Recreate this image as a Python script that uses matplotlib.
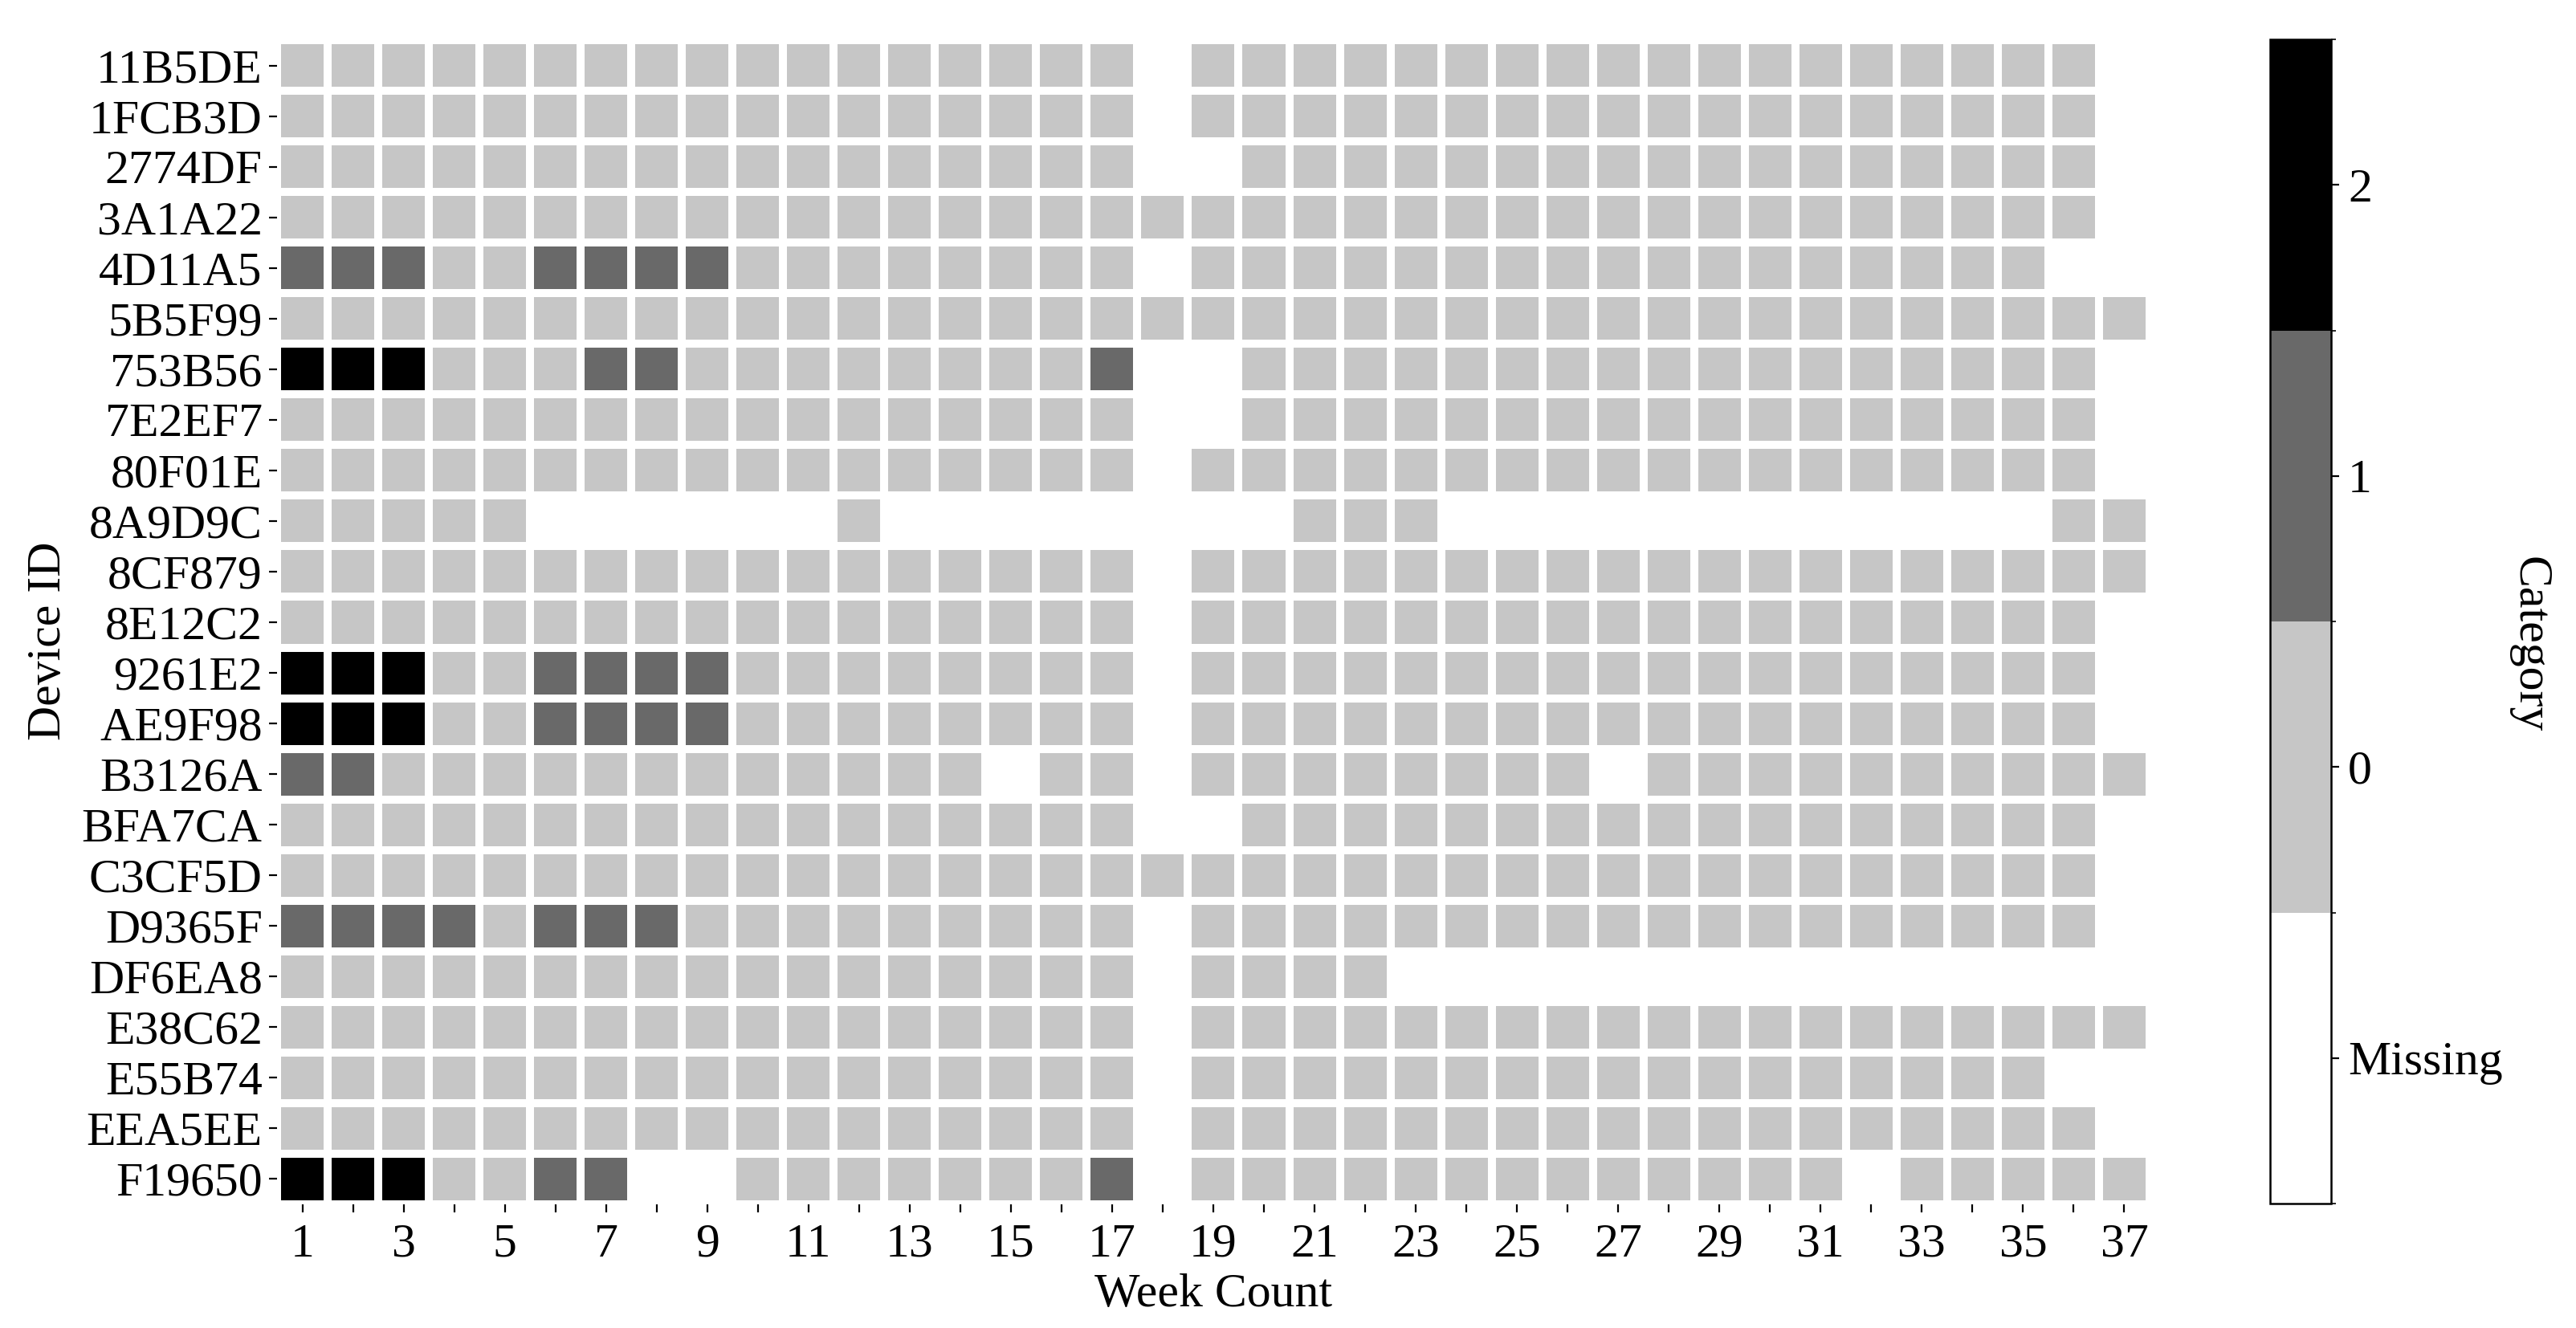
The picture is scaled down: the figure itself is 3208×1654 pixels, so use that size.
import matplotlib
matplotlib.use('Agg')
import matplotlib.pyplot as plt
from matplotlib.colors import ListedColormap, BoundaryNorm
import numpy as np

plt.rcParams['font.family'] = ['Liberation Serif', 'DejaVu Serif']

devices = ['11B5DE', '1FCB3D', '2774DF', '3A1A22', '4D11A5', '5B5F99', '753B56',
           '7E2EF7', '80F01E', '8A9D9C', '8CF879', '8E12C2', '9261E2', 'AE9F98',
           'B3126A', 'BFA7CA', 'C3CF5D', 'D9365F', 'DF6EA8', 'E38C62', 'E55B74',
           'EEA5EE', 'F19650']
weeks = list(range(1, 38))

# one string per device, weeks 1-37 in blocks of ten; '.' = missing week
status = [
    '0000000000 0000000.00 0000000000 000000.',   # 11B5DE
    '0000000000 0000000.00 0000000000 000000.',   # 1FCB3D
    '0000000000 0000000..0 0000000000 000000.',   # 2774DF
    '0000000000 0000000000 0000000000 000000.',   # 3A1A22
    '1110011110 0000000.00 0000000000 00000..',   # 4D11A5
    '0000000000 0000000000 0000000000 0000000',   # 5B5F99
    '2220001100 0000001..0 0000000000 000000.',   # 753B56
    '0000000000 0000000..0 0000000000 000000.',   # 7E2EF7
    '0000000000 0000000.00 0000000000 000000.',   # 80F01E
    '00000..... .0........ 000....... .....00',   # 8A9D9C
    '0000000000 0000000.00 0000000000 0000000',   # 8CF879
    '0000000000 0000000.00 0000000000 000000.',   # 8E12C2
    '2220011110 0000000.00 0000000000 000000.',   # 9261E2
    '2220011110 0000000.00 0000000000 000000.',   # AE9F98
    '1100000000 0000.00.00 000000.000 0000000',   # B3126A
    '0000000000 0000000..0 0000000000 000000.',   # BFA7CA
    '0000000000 0000000000 0000000000 000000.',   # C3CF5D
    '1111011100 0000000.00 0000000000 000000.',   # D9365F
    '0000000000 0000000.00 00........ .......',   # DF6EA8
    '0000000000 0000000.00 0000000000 0000000',   # E38C62
    '0000000000 0000000.00 0000000000 00000..',   # E55B74
    '0000000000 0000000.00 0000000000 000000.',   # EEA5EE
    '2220011..0 0000001.00 0000000000 0.00000',   # F19650
]

category_labels = ['Missing', '0', '1', '2']
category_colors = ['white', '#c6c6c6', '#696969', 'black']

grid = np.array([[-1 if c == '.' else int(c) for c in row.replace(' ', '')]
                 for row in status])

cmap = ListedColormap(category_colors)
norm = BoundaryNorm([-1.5, -0.5, 0.5, 1.5, 2.5], cmap.N)

fig = plt.figure(figsize=(16.04, 8.27), dpi=200)
ax = fig.add_axes([0.10754, 0.09311, 0.72693, 0.87666])
mesh = ax.pcolormesh(np.arange(len(weeks) + 1), np.arange(len(devices) + 1), grid,
                     cmap=cmap, norm=norm, edgecolors='white', linewidth=3.6)
ax.set_xlim(0, len(weeks))
ax.set_ylim(len(devices), 0)
for s in ax.spines.values():
    s.set_visible(False)

ax.set_xticks(np.arange(len(weeks)) + 0.5)
ax.set_xticklabels([str(w) if w % 2 == 1 else '' for w in weeks], fontsize=21.5)
ax.set_yticks(np.arange(len(devices)) + 0.5)
ax.set_yticklabels(devices, fontsize=21.5)
ax.tick_params(axis='both', length=3.6, width=0.8, pad=3)
ax.tick_params(axis='x', pad=5)

ax.set_xlabel('Week Count', fontsize=21.5)
ax.set_ylabel('Device ID', fontsize=21.5)
ax.xaxis.set_label_coords(0.5, -0.059)
ax.yaxis.set_label_coords(-0.110, 0.484)

cax = fig.add_axes([0.88124, 0.09371, 0.02369, 0.87666])
cbar = fig.colorbar(mesh, cax=cax, ticks=[-1, 0, 1, 2])
cbar.ax.set_yticklabels(category_labels, fontsize=21.5)
cbar.ax.tick_params(length=3.6, width=0.8, pad=4)
cbar.outline.set_linewidth(0.9)
cbar.set_label('Category', rotation=270, fontsize=21.5)
cbar.ax.yaxis.set_label_coords(4.6, 0.48)

fig.savefig('out.png', dpi=200)
